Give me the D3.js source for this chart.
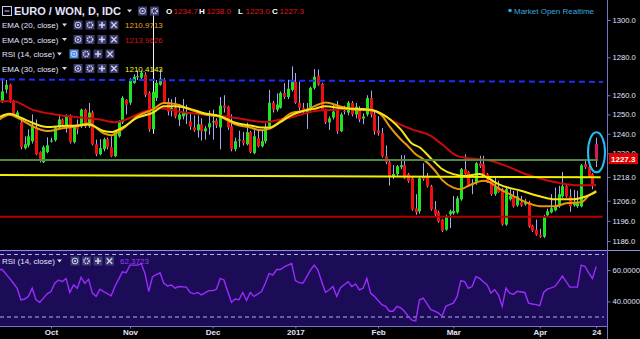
<!DOCTYPE html>
<html>
<head>
<meta charset="utf-8">
<script src="https://d3js.org/d3.v7.min.js"></script>
<style>
  body { margin: 0; background: #000; }
  svg { display: block; font-family: "Liberation Sans", Arial, sans-serif; }
</style>
</head>
<body>
<svg id="chart"></svg>
<script>
// ---- data (bar index 0 = 12 Sep 2016, daily bars) ----
var monthNames = ["Oct", "Nov", "Dec", "2017", "Feb", "Mar", "Apr", "24"];
var monthBars = [15, 36, 58, 80, 102, 122, 145, 160];
var priceTicks = [1186, 1196, 1206, 1218, 1230, 1240, 1250, 1260, 1280, 1300];
var rsiTicks = [40, 60];
var rsiBands = [70, 30];

var opens = [
  1258, 1250, 1257, 1263, 1265.5, 1256.6, 1249, 1245.9, 1232.6, 1234.1,
  1236.2, 1243.3, 1230.6, 1225.4, 1230.6, 1236, 1236.7, 1243.3, 1247.4, 1243.8,
  1249.5, 1235.7, 1244.9, 1243.8, 1252.5, 1243.8, 1251, 1234.6, 1229.5, 1232.1,
  1237.2, 1233.1, 1228.5, 1238.7, 1245.9, 1257.6, 1256.1, 1266.5, 1269.7, 1269.2,
  1270.8, 1261.2, 1242.3, 1258.6, 1265.5, 1268.1, 1256.6, 1252.5, 1253.5, 1247.4,
  1249, 1250, 1246.4, 1243.3, 1241.8, 1244.9, 1241.3, 1243.3, 1246, 1246.9,
  1243.3, 1254.6, 1254, 1243.8, 1232.1, 1236.7, 1236.7, 1234.6, 1240.8, 1230.1,
  1237.7, 1233.6, 1236.2, 1243.8, 1256.1, 1252.5, 1253.5, 1261.2, 1259.1, 1262.8,
  1267.1, 1256.1, 1253.5, 1251, 1252.5, 1263.9, 1270.3, 1266, 1252.5, 1245.9,
  1248.4, 1252.5, 1241.3, 1251.8, 1251, 1256.1, 1250, 1253, 1247.9, 1250,
  1258.6, 1250, 1241.8, 1240.3, 1228.5, 1225.4, 1217.9, 1219.4, 1222.9, 1223.9,
  1219.4, 1217.3, 1202.2, 1200.7, 1217.9, 1217.9, 1213.3, 1201.7, 1200.2, 1196.6,
  1191.6, 1199.2, 1199.7, 1200.2, 1206.7, 1221.9, 1220.4, 1213.8, 1214.8, 1224.9,
  1224.4, 1219.4, 1216.8, 1209.3, 1212.8, 1211.8, 1194.1, 1206.7, 1208.2, 1203.7,
  1205.2, 1204.2, 1205.2, 1193.6, 1191.6, 1189.1, 1188.1, 1198.7, 1200.2, 1201.2,
  1203.2, 1208.2, 1213.3, 1208.2, 1203.7, 1203.2, 1203.2, 1224.4, 1222.9, 1219.4,
  1234.7
];
var highs = [
  1262, 1257, 1269, 1268, 1266, 1257.6, 1252, 1247, 1238.7, 1242.3,
  1250, 1247.4, 1231, 1234, 1238.2, 1238, 1244, 1250, 1248, 1250,
  1250, 1244.5, 1247.4, 1253, 1253, 1256, 1252, 1237, 1237.2, 1238,
  1238, 1238.7, 1242, 1247, 1259.5, 1258, 1269, 1271, 1273, 1273,
  1272, 1262, 1305, 1268, 1273.5, 1269, 1258.5, 1258, 1259, 1255,
  1258, 1255, 1251, 1249.5, 1249.5, 1248, 1244, 1252, 1252.5, 1248,
  1259, 1260, 1254.5, 1250, 1238, 1241.6, 1241, 1245.7, 1241.5, 1242.3,
  1241.5, 1242, 1245.4, 1262.8, 1257, 1261, 1262, 1266.4, 1268.1, 1275.2,
  1271.7, 1267.2, 1256, 1256, 1264.5, 1273.8, 1273.5, 1266.5, 1253, 1249,
  1255.1, 1257, 1251, 1254.6, 1257, 1257, 1256, 1254.3, 1250.5, 1260,
  1262.4, 1252, 1249.1, 1243, 1234, 1227, 1224, 1224, 1229, 1229,
  1220, 1218, 1209.3, 1218, 1224.9, 1220, 1214, 1205.8, 1201, 1197,
  1199, 1201.5, 1208.4, 1208.4, 1222.5, 1229.5, 1221, 1216.8, 1225.5, 1228.7,
  1228.7, 1220, 1217, 1217.7, 1216, 1212.5, 1212.5, 1211.8, 1211, 1211,
  1208.4, 1207, 1206, 1194, 1196.6, 1192, 1199, 1202, 1209.3, 1212.6,
  1213.5, 1220.5, 1214, 1211.8, 1211.4, 1211, 1224.5, 1226.2, 1223.5, 1220,
  1238
];
var lows = [
  1254, 1249, 1256, 1261, 1256, 1249.5, 1248, 1232, 1232, 1233,
  1235, 1229, 1225.3, 1225, 1230, 1235.5, 1236, 1243, 1244, 1240.6,
  1235, 1235, 1239.8, 1243, 1243, 1243, 1234, 1228.5, 1229, 1231,
  1232, 1228, 1228, 1238, 1245, 1250, 1255, 1266, 1268, 1268.5,
  1259, 1241, 1240, 1257, 1265, 1256, 1249.5, 1249, 1248, 1244,
  1247.4, 1245, 1242, 1241, 1238, 1236.5, 1237, 1239.5, 1237, 1243,
  1232, 1251, 1242, 1231, 1231, 1233, 1234, 1234, 1230, 1229.5,
  1233, 1233, 1235, 1243, 1251, 1251.5, 1253, 1258, 1258, 1262,
  1255.5, 1252, 1250.5, 1242.5, 1252, 1263, 1265, 1252, 1245, 1242,
  1247.4, 1240, 1240.8, 1250, 1249.5, 1249, 1248, 1246, 1244.9, 1249,
  1248.5, 1239.5, 1239, 1227.8, 1224.4, 1213.6, 1217, 1218.5, 1221.9, 1217,
  1215, 1201, 1199, 1199.5, 1216, 1212.6, 1201, 1198.3, 1195, 1190.5,
  1191, 1192.4, 1199, 1199.5, 1206, 1219, 1213, 1209.3, 1214, 1222.5,
  1218, 1215, 1208.5, 1208.4, 1210, 1193.5, 1193.5, 1206, 1202.6, 1203,
  1203, 1203.5, 1192.5, 1190.5, 1188.6, 1187.5, 1187.5, 1198, 1199.7, 1200.7,
  1202.5, 1207.5, 1207.5, 1200.5, 1203, 1202.5, 1202.7, 1222, 1217.5, 1211.8,
  1223
];
var closes = [
  1256, 1256, 1262, 1265.5, 1257.6, 1250, 1251, 1233.1, 1234.6, 1238.7,
  1243.8, 1229.5, 1226, 1233.1, 1234.1, 1236.5, 1243.3, 1247.4, 1244.9, 1248.9,
  1235.7, 1243.8, 1242.3, 1252.5, 1243.8, 1251, 1234.6, 1229.5, 1232.6, 1237.2,
  1233.1, 1228.5, 1241.3, 1246.4, 1258.6, 1255.1, 1268.1, 1269.7, 1270, 1271.9,
  1260.2, 1242.3, 1261.8, 1266.5, 1268.7, 1256.6, 1251.5, 1253.5, 1248.9, 1250,
  1251, 1251, 1243.8, 1241.8, 1244.9, 1241.3, 1242.8, 1245.4, 1246.4, 1244.4,
  1254.6, 1253.5, 1243.3, 1232.1, 1236.2, 1237, 1235.2, 1240.8, 1230.6, 1238.7,
  1233.6, 1236.2, 1243.3, 1256.1, 1252.5, 1255.1, 1261.2, 1259.1, 1263.4, 1267.1,
  1256.1, 1253.5, 1252, 1253, 1263.9, 1269.7, 1265.5, 1252.5, 1245.9, 1247.9,
  1251.5, 1241.3, 1250, 1251.5, 1256.1, 1250, 1254, 1247.4, 1248.9, 1258.6,
  1250, 1241.3, 1240.3, 1228.5, 1225.4, 1218.4, 1219.4, 1223.4, 1223.9, 1217.3,
  1215.8, 1201.7, 1200.2, 1217.3, 1216.8, 1213.3, 1201.7, 1199.2, 1195.6, 1191.1,
  1198.2, 1200.7, 1200.9, 1207.2, 1221.9, 1219.4, 1213.8, 1214.8, 1224.9, 1223.4,
  1218.4, 1215.8, 1209.3, 1213.3, 1210.3, 1194.1, 1211.8, 1208.4, 1203.2, 1208.2,
  1203.7, 1205.2, 1193.1, 1191.1, 1189.1, 1188.1, 1198.2, 1200.7, 1202.2, 1203.2,
  1209.3, 1213.3, 1208.2, 1203.2, 1204.7, 1204.7, 1223.9, 1222.9, 1217.9, 1213.8,
  1227.3
];

// moving averages, read at these bars
var ema20At = [1, 4, 7, 10, 14, 18, 22, 25, 29, 31, 34, 38, 42, 45, 48, 52, 56, 60, 64, 68, 71, 73, 76, 79, 82, 85, 88, 92, 96, 100, 103, 105, 108, 110, 112, 114, 117, 119, 122, 124, 126, 130, 132, 134, 137, 141, 145, 149, 152, 156, 158, 160];
var ema20 = [1247, 1249.9, 1247.3, 1244, 1241.4, 1242.8, 1244, 1245.3, 1240.3, 1239.3, 1242.5, 1249.1, 1252.5, 1255.9, 1255.4, 1252.5, 1250, 1248.8, 1244.9, 1243.2, 1241.8, 1242.5, 1246.5, 1250.8, 1251.8, 1254.2, 1256.2, 1254.2, 1252.5, 1252.2, 1249.5, 1244, 1237.2, 1233.5, 1229.5, 1227, 1221.5, 1216.5, 1212.6, 1211.8, 1213.5, 1216, 1215, 1212.2, 1209.3, 1205.5, 1203.3, 1203.3, 1204.7, 1205.2, 1208.5, 1210.9713];
var ema30At = [1, 4, 7, 10, 14, 18, 22, 25, 29, 31, 34, 38, 42, 45, 48, 52, 56, 60, 64, 68, 71, 73, 76, 79, 82, 85, 88, 92, 96, 100, 103, 108, 111, 113, 116, 119, 122, 125, 129, 131, 134, 140, 145, 149, 154, 157, 160];
var ema30 = [1248.4, 1250.3, 1248.3, 1245.7, 1243.5, 1244, 1244.3, 1244.8, 1241.4, 1240.9, 1243.2, 1248.3, 1250.8, 1254.2, 1254.2, 1252.9, 1250.5, 1249.1, 1245.7, 1244.3, 1243.2, 1243.2, 1246, 1249.7, 1251.8, 1252.9, 1254.2, 1253.4, 1252.9, 1252.5, 1250.3, 1242.3, 1235, 1233.1, 1227.5, 1222, 1219.4, 1218.5, 1219.4, 1217.7, 1214.3, 1211, 1208.2, 1206.7, 1206.7, 1208, 1210.4143];
var ema55At = [1, 5, 10, 16, 23, 28, 32, 35, 39, 44, 50, 56, 62, 68, 72, 76, 80, 85, 91, 95, 100, 103, 106, 111, 116, 119, 123, 127, 131, 136, 141, 145, 150, 155, 160];
var ema55 = [1256.9, 1256.9, 1252.5, 1250, 1248.4, 1247.4, 1246, 1247.4, 1250.9, 1253.2, 1251.1, 1250, 1248.8, 1246.9, 1246, 1247.4, 1249.1, 1251.7, 1252.5, 1253, 1252.5, 1250, 1246.5, 1242.3, 1238.9, 1234.6, 1228.7, 1227.3, 1226.6, 1223.6, 1219.6, 1217.2, 1215, 1213.8, 1213.9626];

// RSI (14), read at these bars
var rsiAt = [1, 2, 4, 5, 6, 7, 8, 9, 10, 11, 12, 13, 14, 15, 16, 17, 18, 19, 20, 21, 22, 23, 24, 25, 26, 27, 28, 29, 31, 32, 34, 35, 36, 38, 39, 40, 41, 42, 44, 45, 46, 47, 48, 49, 51, 52, 53, 54, 55, 57, 58, 59, 60, 61, 62, 63, 64, 65, 66, 67, 68, 69, 71, 72, 73, 74, 75, 76, 77, 79, 80, 81, 82, 84, 85, 86, 87, 88, 89, 90, 91, 92, 94, 95, 96, 97, 98, 99, 100, 101, 103, 104, 105, 106, 107, 108, 109, 110, 111, 112, 113, 114, 115, 116, 117, 118, 119, 120, 121, 122, 123, 124, 125, 126, 127, 128, 129, 130, 131, 132, 133, 134, 135, 136, 137, 138, 139, 141, 142, 143, 144, 145, 146, 147, 148, 149, 150, 151, 152, 153, 154, 155, 156, 157, 158, 159, 160];
var rsi = [60.4, 60.4, 54.7, 51.6, 48.4, 41, 41.5, 43.2, 48.4, 41, 39.4, 42.1, 44.8, 46.3, 51.6, 53.7, 52.6, 54.7, 45.7, 50.5, 48.4, 55.4, 51.6, 54.1, 45.3, 43.2, 47.8, 46.3, 43.6, 49.5, 58.9, 58.3, 63.2, 63.2, 64.2, 57.9, 46.3, 55.8, 58.3, 51.6, 49.9, 50.5, 48.4, 49.5, 49.1, 45.7, 44.8, 45.7, 44.2, 46.9, 46.9, 47.8, 54.7, 53.7, 46.3, 39.4, 41.5, 41, 45.7, 40.6, 45.7, 43.2, 46.3, 51.6, 57.9, 56.8, 60.4, 60.4, 62.1, 64.2, 53.3, 52, 51.6, 60, 63.2, 60, 52.6, 45.7, 47.4, 49.5, 43.2, 48.8, 52.6, 49.5, 51.2, 47.4, 48.4, 54.7, 45.3, 43.2, 37.9, 36.8, 33.7, 33.7, 36.8, 35.8, 33.7, 30.5, 28, 27.5, 41, 42.1, 38.5, 34.7, 33.7, 32.6, 30.5, 36.8, 37.9, 38.9, 43, 53.3, 52.6, 48.4, 49.5, 55.8, 54.7, 52.6, 50.5, 45.3, 47.4, 44.2, 36.8, 48.4, 45.3, 44.5, 46.5, 45.7, 38.9, 38.3, 37.9, 37.3, 45.7, 47.8, 48.6, 49.5, 52.6, 56.2, 52.6, 49.1, 49.1, 49.1, 63.2, 62.5, 58.3, 54.7, 62.3723];

// drawn level lines: from bar/price to bar/price
var levelColors = ["#1f2cff", "#4f8a43", "#f2f200", "#b30000"];
var levelFromBar = [-1.5, -1.5, -1.5, -1.5];
var levelToBar = [161.8, 160.5, 161.2, 161.7];
var levelFromPrice = [1268.3, 1226.6, 1219.0, 1198.0];
var levelToPrice = [1267.0, 1226.6, 1217.8, 1198.0];

// ---- layout ----
var w = 640, h = 339;
var axisX = 607;
var mainBottom = 250;
var rsiTop = 251, rsiBottom = 326;

var svg = d3.select("#chart").attr("width", w).attr("height", h);
svg.append("rect").attr("width", w).attr("height", h).attr("fill", "#000");

var x = d3.scaleLinear().domain([0, 160]).range([-5.4, 596.2]);
var y = d3.scaleLog().domain([1186, 1300]).range([241, 20]);
var yr = d3.scaleLinear().domain([30, 70]).range([317, 254.5]);

var defs = svg.append("defs");
defs.append("clipPath").attr("id", "clipMain")
  .append("rect").attr("x", 0).attr("y", 0).attr("width", axisX).attr("height", mainBottom);
defs.append("clipPath").attr("id", "clipRsi")
  .append("rect").attr("x", 0).attr("y", rsiTop).attr("width", axisX).attr("height", rsiBottom - rsiTop);

// RSI pane background
svg.append("rect")
  .attr("x", 0).attr("y", rsiTop)
  .attr("width", axisX).attr("height", rsiBottom - rsiTop)
  .attr("fill", "#1c0b57");

// candles
var bars = d3.range(closes.length);
var main = svg.append("g").attr("clip-path", "url(#clipMain)");

main.selectAll("line.wick")
  .data(bars)
  .enter()
  .append("line")
  .attr("class", "wick")
  .attr("x1", function (i) { return Math.round(x(i)) + 0.5; })
  .attr("x2", function (i) { return Math.round(x(i)) + 0.5; })
  .attr("y1", function (i) { return y(highs[i]); })
  .attr("y2", function (i) { return y(lows[i]); })
  .attr("stroke", function (i) { return i === 42 ? "#f0f0ff" : "#a7a7f2"; })
  .attr("stroke-width", 1);

main.selectAll("rect.body")
  .data(bars)
  .enter()
  .append("rect")
  .attr("class", "body")
  .attr("x", function (i) { return Math.round(x(i)) - 1; })
  .attr("width", 3)
  .attr("y", function (i) { return y(Math.max(opens[i], closes[i])); })
  .attr("height", function (i) {
    return Math.max(1, Math.abs(y(opens[i]) - y(closes[i])));
  })
  .attr("fill", function (i) {
    if (i === closes.length - 1) return "#d8185c";
    return closes[i] >= opens[i] ? "#1ee61e" : "#ec1010";
  });

// moving averages
function emaLine(at, vals, color) {
  var pts = at.map(function (b, k) { return [b, vals[k]]; });
  main.append("path")
    .datum(pts)
    .attr("fill", "none")
    .attr("stroke", color)
    .attr("stroke-width", 2)
    .attr("d", d3.line()
      .x(function (d) { return x(d[0]); })
      .y(function (d) { return y(d[1]); })
      .curve(d3.curveMonotoneX));
}
emaLine(ema55At, ema55, "#c80a0a");
emaLine(ema20At, ema20, "#e8970c");
emaLine(ema30At, ema30, "#f5e61a");

// level lines
main.selectAll("line.level")
  .data(levelColors)
  .enter()
  .append("line")
  .attr("class", "level")
  .attr("x1", function (d, i) { return x(levelFromBar[i]); })
  .attr("x2", function (d, i) { return x(levelToBar[i]); })
  .attr("y1", function (d, i) { return y(levelFromPrice[i]); })
  .attr("y2", function (d, i) { return y(levelToPrice[i]); })
  .attr("stroke", function (d) { return d; })
  .attr("stroke-width", 2)
  .attr("stroke-dasharray", function (d, i) { return i === 0 ? "6,4" : null; });

// highlight ellipse on the last bar
var last = closes.length - 1;
main.append("ellipse")
  .attr("cx", Math.round(x(last)) + 0.5)
  .attr("cy", (y(highs[last]) + y(lows[last])) / 2)
  .attr("rx", 8.5)
  .attr("ry", 20)
  .attr("fill", "none")
  .attr("stroke", "#1ec4f2")
  .attr("stroke-width", 2);

// RSI pane
var rsiG = svg.append("g").attr("clip-path", "url(#clipRsi)");
rsiG.selectAll("line.band")
  .data(rsiBands)
  .enter()
  .append("line")
  .attr("x1", 0).attr("x2", axisX - 3)
  .attr("y1", function (d) { return yr(d); })
  .attr("y2", function (d) { return yr(d); })
  .attr("stroke", "#b7b0ee")
  .attr("stroke-width", 1)
  .attr("stroke-dasharray", "4,3");

rsiG.append("path")
  .datum(rsiAt.map(function (b, k) { return [b, rsi[k]]; }))
  .attr("fill", "none")
  .attr("stroke", "#9a2cff")
  .attr("stroke-width", 1.4)
  .attr("d", d3.line()
    .x(function (d) { return x(d[0]); })
    .y(function (d) { return yr(d[1]); }));

// pane separators
svg.append("line")
  .attr("x1", 0).attr("x2", w).attr("y1", mainBottom + 0.5).attr("y2", mainBottom + 0.5)
  .attr("stroke", "#8d8de0").attr("stroke-width", 1);

// axes
function styleAxis(g) {
  g.selectAll("path.domain").attr("stroke", "#7474cc");
  g.selectAll(".tick line").attr("stroke", "#7474cc");
  g.selectAll(".tick text")
    .attr("fill", "#e2e2ff")
    .attr("font-size", "7.6px")
    .attr("font-family", "Liberation Sans, Arial, sans-serif");
}

var yAxis = svg.append("g")
  .attr("transform", "translate(" + (axisX + 0.5) + ",0)")
  .call(d3.axisRight(y).tickValues(priceTicks).tickFormat(d3.format(".1f")).tickSize(3).tickPadding(2));
yAxis.select("path.domain").attr("d", "M0,0V" + mainBottom);
styleAxis(yAxis);

var rAxis = svg.append("g")
  .attr("transform", "translate(" + (axisX + 0.5) + ",0)")
  .call(d3.axisRight(yr).tickValues(rsiTicks).tickFormat(d3.format(".4f")).tickSize(3).tickPadding(2));
rAxis.select("path.domain").attr("d", "M0," + mainBottom + "V" + h);
styleAxis(rAxis);

var xAxis = svg.append("g")
  .attr("transform", "translate(0," + (rsiBottom + 0.5) + ")")
  .call(d3.axisBottom(x).tickValues(monthBars)
    .tickFormat(function (d, i) { return monthNames[i]; })
    .tickSize(2).tickPadding(1));
xAxis.select("path.domain").attr("d", "M0,0H" + axisX);
styleAxis(xAxis);
xAxis.selectAll(".tick text").attr("font-weight", "bold").attr("font-size", "8px");

// last price tag (drawn over the 1230 tick, as in the platform)
var tagY = y(closes[last]);
svg.append("rect")
  .attr("x", axisX + 2).attr("y", tagY - 5.5)
  .attr("width", 29).attr("height", 11)
  .attr("fill", "#e30000");
svg.append("text")
  .text(d3.format(".1f")(closes[last]))
  .attr("x", axisX + 4).attr("y", tagY + 3)
  .attr("font-size", "8px").attr("font-weight", "bold")
  .attr("fill", "#fff");

// ---- legend ----
function txt(s, tx, ty, size, fill, weight) {
  return svg.append("text")
    .text(s)
    .attr("x", tx).attr("y", ty)
    .attr("font-size", size + "px")
    .attr("font-weight", weight || "normal")
    .attr("fill", fill);
}
function caret(cx, cy) {
  svg.append("path")
    .attr("d", "M" + cx + "," + (cy - 1.5) + "h5l-2.5,3z")
    .attr("fill", "#d6d6f4");
}
function icon(x0, yc, kind, bg) {
  var c = "#cfcff0";
  var cx = x0 + 4.5;
  svg.append("rect")
    .attr("x", x0).attr("y", yc - 4.5)
    .attr("width", 9).attr("height", 9)
    .attr("fill", bg);
  if (kind === "eye") {
    svg.append("circle").attr("cx", cx).attr("cy", yc).attr("r", 2.9)
      .attr("fill", "none").attr("stroke", c).attr("stroke-width", 1);
    svg.append("circle").attr("cx", cx).attr("cy", yc).attr("r", 1.1).attr("fill", c);
  } else if (kind === "gear") {
    svg.append("circle").attr("cx", cx).attr("cy", yc).attr("r", 2.6)
      .attr("fill", "none").attr("stroke", c).attr("stroke-width", 1.6)
      .attr("stroke-dasharray", "1.3,0.8");
  } else if (kind === "plus") {
    svg.append("path")
      .attr("d", "M" + (cx - 3) + "," + yc + "h6M" + cx + "," + (yc - 3) + "v6")
      .attr("stroke", c).attr("stroke-width", 1.6);
  } else {
    svg.append("path")
      .attr("d", "M" + (cx - 2.7) + "," + (yc - 2.7) + "l5.4,5.4M" + (cx + 2.7) + "," + (yc - 2.7) + "l-5.4,5.4")
      .attr("stroke", c).attr("stroke-width", 1.3);
  }
}
var iconKinds = ["eye", "gear", "plus", "close"];
var iconBg = "#3b3b6c";

// header
svg.append("rect")
  .attr("x", 2.5).attr("y", 6.5).attr("width", 9).attr("height", 9)
  .attr("fill", "none").attr("stroke", "#c9c9f0").attr("stroke-width", 1);
svg.append("line")
  .attr("x1", 4.5).attr("x2", 9.5).attr("y1", 11).attr("y2", 11)
  .attr("stroke", "#c9c9f0").attr("stroke-width", 1);
txt("EURO / WON, D, IDC", 14, 15, 11, "#e4e4ff", "bold");
caret(127, 11);
icon(138, 11, "eye", iconBg);
icon(150, 11, "gear", iconBg);

var ohlcLabels = ["O", "H", "L", "C"];
var ohlcValues = [opens[last], highs[last], lows[last], closes[last]];
var ohlcX = [166, 199, 238, 272];
ohlcLabels.forEach(function (s, k) {
  txt(s, ohlcX[k], 14, 8, "#ffffff", "bold");
  txt(d3.format(".1f")(ohlcValues[k]), ohlcX[k] + 7.5, 14, 8, "#e31414");
});

svg.append("circle").attr("cx", 510).attr("cy", 10.5).attr("r", 1.8).attr("fill", "#3aa8dc");
txt("Market Open Realtime", 514, 14, 8, "#3aa8dc");

// indicator rows
var rowNames = ["EMA (20, close)", "EMA (55, close)", "RSI (14, close)", "EMA (30, close)"];
var rowValues = [ema20[ema20.length - 1], ema55[ema55.length - 1], null, ema30[ema30.length - 1]];
var rowColors = ["#eda21e", "#d41515", null, "#f5f51e"];
var rowY = [25, 39.5, 54, 68.5];
rowNames.forEach(function (s, k) {
  var isRsi = k === 2;
  txt(s, 2, rowY[k] + 3, 8, "#e2e2ff");
  caret(isRsi ? 57 : 62, rowY[k]);
  var ix = isRsi ? 69.5 : 73.5;
  iconKinds.forEach(function (kind, j) {
    icon(ix + j * 12, rowY[k], kind, isRsi && j === 0 ? "#4d8fe0" : iconBg);
  });
  if (rowValues[k] !== null) {
    txt(d3.format(".4f")(rowValues[k]), 125, rowY[k] + 3, 8, rowColors[k]);
  }
});

// RSI pane legend
var rsiLegY = 261;
txt("RSI (14, close)", 2, rsiLegY + 3, 8, "#e2e2ff");
caret(57, rsiLegY);
iconKinds.forEach(function (kind, j) {
  icon(70.5 + j * 11.5, rsiLegY, kind, "#3a3a70");
});
txt(d3.format(".4f")(rsi[rsi.length - 1]), 120, rsiLegY + 3, 8, "#9a3cff");
</script>
</body>
</html>
